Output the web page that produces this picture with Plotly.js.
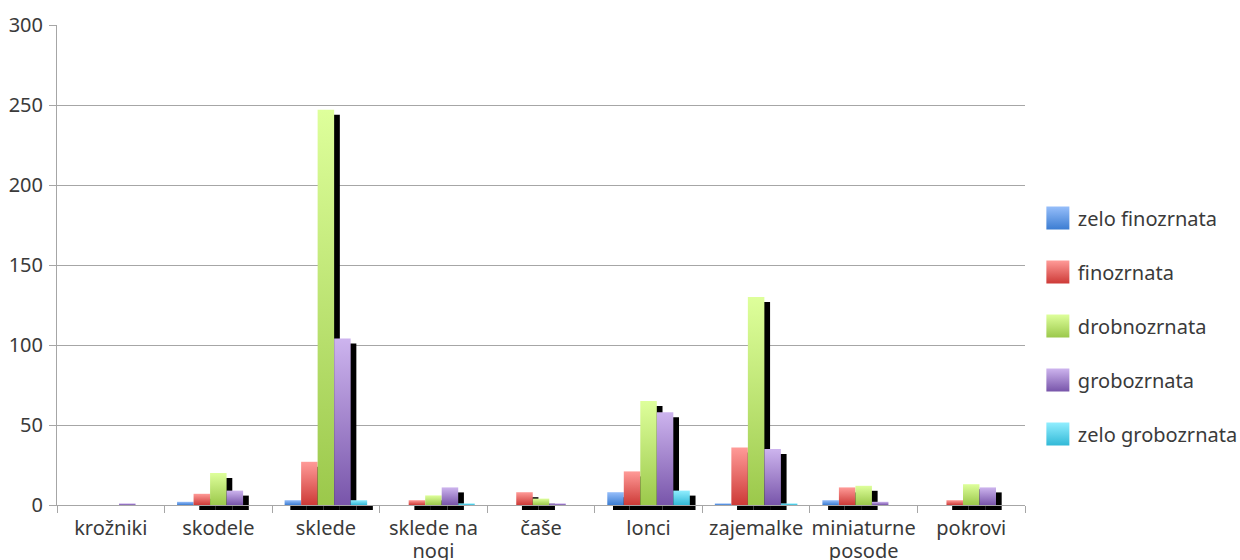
<!DOCTYPE html>
<html><head><meta charset="utf-8">
<script src="https://cdn.plot.ly/plotly-3.0.1.min.js"></script>
<style>html,body{margin:0;padding:0;background:#fff}#chart{width:1240px;height:560px}</style>
</head><body><div id="chart"></div>
<script>
// ---- data ----
const categories = ['krožniki', 'skodele', 'sklede', 'sklede na<br>nogi', 'čaše', 'lonci', 'zajemalke', 'miniaturne<br>posode', 'pokrovi'];
const seriesNames = ['zelo finozrnata', 'finozrnata', 'drobnozrnata', 'grobozrnata', 'zelo grobozrnata'];
const zeloFinozrnata  = [null, 2,   3, null, null,  8,   1,  3, null];
const finozrnata      = [null, 7,  27,    3,    8, 21,  36, 11,    3];
const drobnozrnata    = [null, 20, 247,   6,    4, 65, 130, 12,   13];
const grobozrnata     = [1,    9, 104,   11,    1, 58,  35,  2,   11];
const zeloGrobozrnata = [null, null, 3,   1, null,  9,   1, null, null];
const seriesValues = [zeloFinozrnata, finozrnata, drobnozrnata, grobozrnata, zeloGrobozrnata];
const yTicks = [0, 50, 100, 150, 200, 250, 300];

// ---- style ----
const gradTop    = ['#96BEFA', '#FF9B98', '#DEFF9B', '#CDB4EE', '#91EEFF'];
const gradBottom = ['#3C7DD2', '#CD3A37', '#9BC84B', '#7855AA', '#32B9D7'];
const barW = 0.1535;
const shadowDx = 0.053;
const shadowDy = 3.125;   // 5px in data units
const FONT = 'Noto Sans, Open Sans, sans-serif';
const TXT = '#3a3a3a';
const GRID = '#a6a6a6';
const FS = 20;

const traces = [];
// shadows first (drawn under bars)
seriesValues.forEach((vals, i) => {
  traces.push({
    type: 'bar', x: categories,
    y: vals.map(v => (v !== null && v >= 3) ? v : null),
    base: -shadowDy,
    offset: -2.5 * barW + i * barW + shadowDx, width: barW,
    marker: {color: '#000', line: {width: 0}},
    showlegend: false, hoverinfo: 'skip', cliponaxis: false, meta: 'shadow'
  });
});
seriesValues.forEach((vals, i) => {
  traces.push({
    type: 'bar', x: categories, y: vals, name: seriesNames[i],
    offset: -2.5 * barW + i * barW, width: barW,
    marker: {color: gradBottom[i], line: {width: 0}},
    legendgroup: 'g' + i, meta: i, cliponaxis: false
  });
});

const layout = {
  width: 1240, height: 560,
  margin: {l: 57, r: 215, t: 25, b: 55, autoexpand: false},
  paper_bgcolor: '#fff', plot_bgcolor: '#fff',
  barmode: 'overlay',
  font: {family: FONT, size: FS, color: TXT},
  showlegend: true,
  legend: {x: 1.0133, xanchor: 'left', y: 0.373, yanchor: 'middle',
           font: {family: FONT, size: FS, color: TXT}, tracegroupgap: 25,
           traceorder: 'grouped', bgcolor: 'rgba(0,0,0,0)'},
  xaxis: {type: 'category', showline: true, linecolor: GRID, linewidth: 1,
          ticks: 'outside', tickson: 'boundaries', ticklen: 7, tickcolor: GRID,
          tickangle: 0, showgrid: false, zeroline: false, ticklabelstandoff: 5,
          tickfont: {size: FS, color: TXT}},
  yaxis: {range: [0, 300], tickvals: yTicks, ticktext: yTicks.map(String),
          showline: true, linecolor: GRID, linewidth: 1,
          ticks: 'outside', ticklen: 7, tickcolor: GRID,
          showgrid: true, gridcolor: GRID, gridwidth: 1, zeroline: false,
          tickfont: {size: FS, color: TXT}, ticklabelstandoff: 2}
};

Plotly.newPlot('chart', traces, layout, {staticPlot: true, displayModeBar: false}).then(gd => {
  const ns = 'http://www.w3.org/2000/svg';
  const svg = gd.querySelector('svg.main-svg');
  let defs = svg.querySelector('defs');
  if (!defs) { defs = document.createElementNS(ns, 'defs'); svg.insertBefore(defs, svg.firstChild); }
  seriesNames.forEach((n, i) => {
    const g = document.createElementNS(ns, 'linearGradient');
    g.setAttribute('id', 'grad' + i);
    g.setAttribute('x1', '0'); g.setAttribute('y1', '0');
    g.setAttribute('x2', '0'); g.setAttribute('y2', '1');
    [[0, gradTop[i]], [1, gradBottom[i]]].forEach(([o, c]) => {
      const s = document.createElementNS(ns, 'stop');
      s.setAttribute('offset', o); s.setAttribute('stop-color', c);
      g.appendChild(s);
    });
    defs.appendChild(g);
  });
  // let the shadows reach below the zero line
  gd.querySelectorAll('.barlayer, .barlayer *').forEach(el => el.removeAttribute('clip-path'));
  let p = gd.querySelector('.barlayer');
  while (p && p !== svg) { if (p.removeAttribute) p.removeAttribute('clip-path'); p = p.parentNode; }
  gd.querySelectorAll('.barlayer .trace.bars').forEach(t => {
    const d = t.__data__ && t.__data__[0] && t.__data__[0].trace;
    if (!d || typeof d.meta !== 'number') return;
    t.querySelectorAll('path').forEach(p => { p.style.fill = 'url(#grad' + d.meta + ')'; });
  });
  gd.querySelectorAll('.legend .traces').forEach(li => {
    const d = li.__data__ && li.__data__[0] && li.__data__[0].trace;
    if (!d) return;
    const i = seriesNames.indexOf(d.name);
    li.querySelectorAll('.legendpoints path').forEach(p => {
      p.style.fill = 'url(#grad' + i + ')';
      p.setAttribute('d', 'M11.5,11.5H-11.5V-11.5H11.5Z');
    });
  });
  // line spacing for the two-line category labels
  gd.querySelectorAll('.xtick text tspan.line').forEach(t => {
    const dy = t.getAttribute('dy');
    if (dy && parseFloat(dy) > 0) t.setAttribute('dy', '23px');
  });
});
</script>
</body></html>
